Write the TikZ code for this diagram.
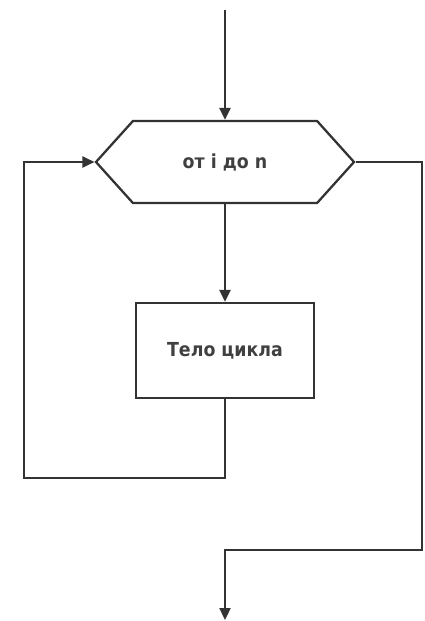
\documentclass[tikz,border=0pt]{standalone}
\usepackage{fontspec}
\setmainfont{DejaVu Sans Condensed}
\usetikzlibrary{arrows.meta,shapes.symbols}

\begin{document}
\begin{tikzpicture}[line width=1.3pt,draw=black!80,>={Triangle[length=2.4mm,width=2.2mm]},
  loopbox/.style={signal,signal to=west and east,signal pointer angle=96,draw,
    minimum width=5.16cm,minimum height=1.64cm,inner sep=0pt},
  bodybox/.style={rectangle,draw,minimum width=3.56cm,minimum height=1.9cm},
  lbl/.style={font=\fontsize{11}{13}\selectfont\bfseries,text=black!75}]
\useasboundingbox (0,0) rectangle (8.48,-12.42);
% ---------- blocks ----------
\node[loopbox,lbl] (loop) at (4.5,-3.24) {от i до n};
\node[bodybox,lbl] (body) at (4.5,-7.01) {Тело цикла};
% ---------- free ends ----------
\coordinate (in) at (4.5,-0.2);
\coordinate (out) at (4.5,-12.4);
% ---------- flow ----------
\draw[->,draw=black!80] (in) -- (loop.north);
\draw[->,draw=black!80] (loop.south) -- (body.north);
% return line of the loop
\draw[->,draw=black!80] (body.south) |- (4.5,-9.56) -| (0.48,-3.24) -- (loop.west);
% exit of the loop
\draw[->,draw=black!80] (loop.east) -- (8.44,-3.24) |- (4.5,-11.0) -- (out);
\end{tikzpicture}
\end{document}
